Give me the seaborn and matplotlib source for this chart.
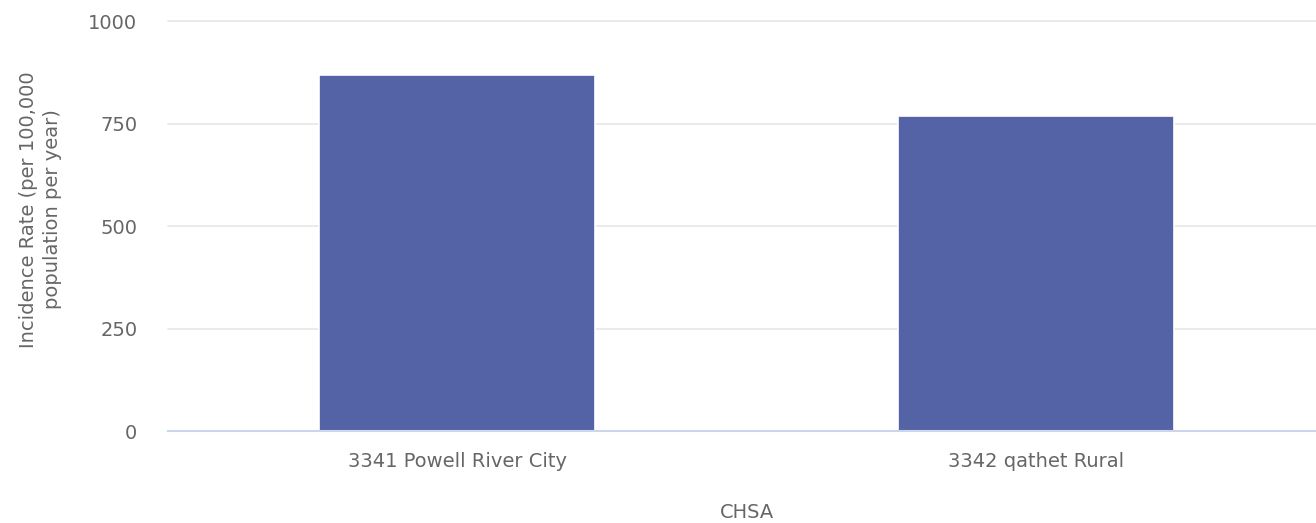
import seaborn as sns
import matplotlib.pyplot as plt
import pandas as pd

# Data
chsa_names = ["3341 Powell River City", "3342 qathet Rural"]
incidence_rates = [868, 768]
y_ticks = [0, 250, 500, 750, 1000]

df = pd.DataFrame({"CHSA": chsa_names, "Rate": incidence_rates})

sns.set_style("white")
plt.rcParams["font.family"] = ["DejaVu Sans"]

text_color = "#666666"
fsize = 14

fig = plt.figure(figsize=(13.16, 5.23), dpi=100)
ax = fig.add_axes([0.1277, 0.1759, 0.8792, 0.7839])

sns.barplot(data=df, x="CHSA", y="Rate", color="#5463a5", saturation=1,
            width=0.477, edgecolor="white", linewidth=1.2, ax=ax, zorder=3)

ax.set_ylim(0, 1000)
ax.set_yticks(y_ticks)
ax.set_yticklabels([str(t) for t in y_ticks])
ax.grid(axis="y", color="#e6e6e6", linewidth=1.2, zorder=0)
ax.set_axisbelow(True)
for line in ax.get_ygridlines():
    line.set_clip_on(False)

for side in ["top", "right", "left"]:
    ax.spines[side].set_visible(False)
ax.spines["bottom"].set_color("#ccd6eb")
ax.spines["bottom"].set_linewidth(1.5)
ax.spines["bottom"].set_zorder(4)

ax.tick_params(axis="both", length=0, labelsize=fsize, labelcolor=text_color)
ax.tick_params(axis="y", pad=22)
ax.tick_params(axis="x", pad=15)

ax.set_xlabel("CHSA", fontsize=fsize, color=text_color, labelpad=23)
ax.set_ylabel("Incidence Rate (per 100,000\npopulation per year)", fontsize=fsize,
              color=text_color, linespacing=1.35)
ax.yaxis.set_label_coords(-0.0916, 0.541)

fig.savefig("out.png", dpi=100)
